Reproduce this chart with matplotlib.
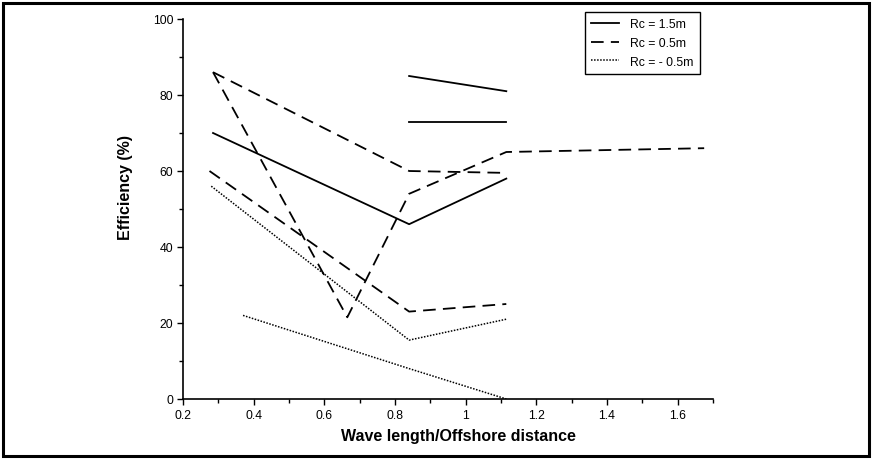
import matplotlib
matplotlib.use("Agg")
import matplotlib.pyplot as plt
from matplotlib.patches import Rectangle
from matplotlib.ticker import MultipleLocator

plt.rcParams['font.family'] = ['Liberation Sans', 'DejaVu Sans']

# Rc = 1.5m (solid)
solid_a_x = [0.285, 0.84, 1.115]
solid_a_y = [70, 46, 58]
solid_b_x = [0.84, 1.115]
solid_b_y = [85, 81]
solid_c_x = [0.84, 1.115]
solid_c_y = [73, 73]

# Rc = 0.5m (dashed)
dashed_a_x = [0.285, 0.84, 1.115]
dashed_a_y = [86, 60, 59.5]
dashed_b_x = [0.285, 0.665, 0.84, 1.115, 1.675]
dashed_b_y = [86, 21.5, 54, 65, 66]
dashed_c_x = [0.275, 0.84, 1.115]
dashed_c_y = [60, 23, 25]

# Rc = -0.5m (dotted)
dotted_a_x = [0.28, 0.84, 1.115]
dotted_a_y = [56, 15.5, 21]
dotted_b_x = [0.37, 0.84, 1.115]
dotted_b_y = [22, 8, 0]

legend_labels = ["Rc = 1.5m", "Rc = 0.5m", "Rc = - 0.5m"]
x_ticks = [0.2, 0.4, 0.6, 0.8, 1.0, 1.2, 1.4, 1.6]
x_tick_labels = ["0.2", "0.4", "0.6", "0.8", "1", "1.2", "1.4", "1.6"]
y_ticks = [0, 20, 40, 60, 80, 100]

W, H = 872, 460
fig = plt.figure(figsize=(W / 100, H / 100), dpi=100)
ax = fig.add_axes([183 / W, 60 / H, 530 / W, 380 / H])

lw = 1.3
dash = (0, (7, 4))
dot = (0, (1, 1))
ax.plot(solid_a_x, solid_a_y, color='black', lw=lw, ls='-', label=legend_labels[0])
ax.plot(solid_b_x, solid_b_y, color='black', lw=lw, ls='-')
ax.plot(solid_c_x, solid_c_y, color='black', lw=lw, ls='-')
ax.plot(dashed_a_x, dashed_a_y, color='black', lw=lw, ls=dash, label=legend_labels[1])
ax.plot(dashed_b_x, dashed_b_y, color='black', lw=lw, ls=dash)
ax.plot(dashed_c_x, dashed_c_y, color='black', lw=lw, ls=dash)
ax.plot(dotted_a_x, dotted_a_y, color='black', lw=1.1, ls=dot, label=legend_labels[2])
ax.plot(dotted_b_x, dotted_b_y, color='black', lw=1.1, ls=dot)

ax.set_xlim(0.2, 1.7)
ax.set_ylim(0, 100)
ax.spines['top'].set_visible(False)
ax.spines['right'].set_visible(False)
for s in ('left', 'bottom'):
    ax.spines[s].set_linewidth(1.2)
ax.set_xticks(x_ticks)
ax.set_xticklabels(x_tick_labels)
ax.set_yticks(y_ticks)
ax.xaxis.set_minor_locator(MultipleLocator(0.1))
ax.yaxis.set_minor_locator(MultipleLocator(10))
ax.tick_params(which='major', direction='out', length=4.5, width=1, labelsize=8.8, pad=2.5)
ax.tick_params(which='minor', direction='out', length=3, width=1)

xl = ax.set_xlabel("Wave length/Offshore distance", fontsize=11.5, fontweight='bold')
xl.set_va('center')
ax.xaxis.set_label_coords(0.519, -0.097)
yl = ax.set_ylabel("Efficiency (%)", fontsize=11.5, fontweight='bold')
yl.set_va('center')
yl.set_ha('center')
ax.yaxis.set_label_coords(-0.109, 0.56)

leg = ax.legend(loc='upper right', bbox_to_anchor=(700 / W, 1 - 13 / H),
                bbox_transform=fig.transFigure, borderaxespad=0, fontsize=8.8,
                fancybox=False, framealpha=1, edgecolor='black',
                handlelength=2.3, handletextpad=0.9, labelspacing=0.55,
                borderpad=0.5)
leg.get_frame().set_linewidth(1.0)

fig.patches.append(Rectangle((3 / W, 3 / H), (W - 6) / W, (H - 7) / H,
                             transform=fig.transFigure, fill=False,
                             edgecolor='black', linewidth=2.2))

fig.savefig("out.png", dpi=100)
